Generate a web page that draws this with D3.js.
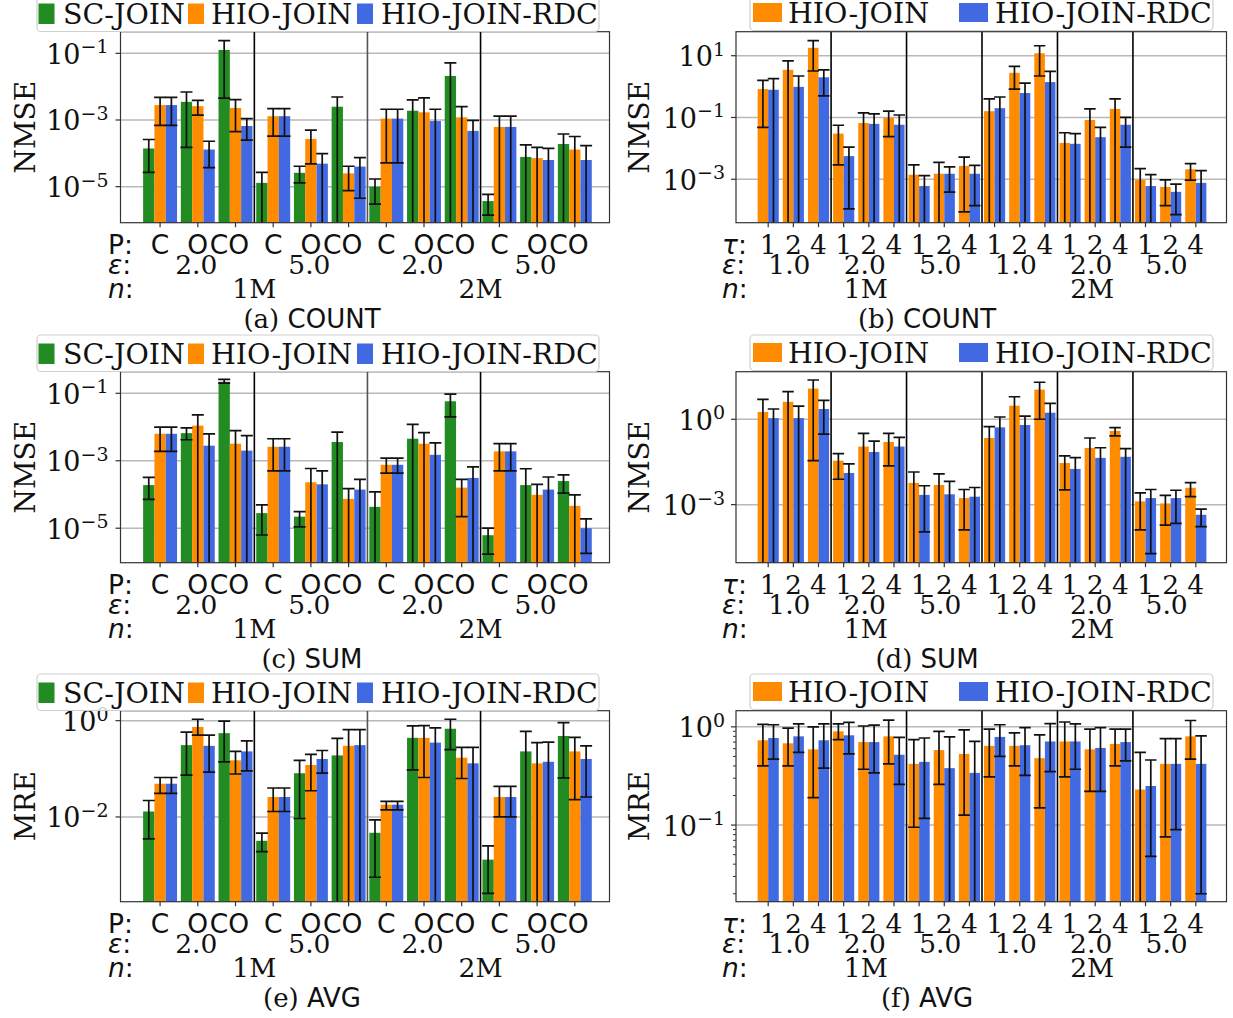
<!DOCTYPE html>
<html><head><meta charset="utf-8">
<script src="https://cdnjs.cloudflare.com/ajax/libs/d3/7.8.5/d3.min.js"></script>
<style>body{margin:0;background:#fff}</style>
</head><body><svg id="c" width="1233" height="1018"></svg>
<script>
// ---------------- DATA ----------------
// each entry: [value, lowerErrorBound, upperErrorBound]; lower bound 0 = error bar reaches below the axis
const seriesLeft = ["SC-JOIN", "HIO-JOIN", "HIO-JOIN-RDC"];
const seriesRight = ["HIO-JOIN", "HIO-JOIN-RDC"];
const pLabels = ["C","O","CO","C","O","CO","C","O","CO","C","O","CO"];
const epsLeft = ["2.0","5.0","2.0","5.0"];
const tauLabels = ["1","2","4","1","2","4","1","2","4","1","2","4","1","2","4","1","2","4"];
const epsRight = ["1.0","2.0","5.0","1.0","2.0","5.0"];
const nLabels = ["1M","2M"];

const countP_SC = [[1.4e-4,2.7e-5,2.6e-4],[3.5e-3,1.5e-4,6.9e-3],[0.126,4.5e-3,0.24],[1.3e-5,0,2.7e-5],[2.6e-5,1.3e-5,4.1e-5],[2.5e-3,0,4.9e-3],[1.0e-5,3.0e-6,1.7e-5],[1.9e-3,0,4.0e-3],[2.1e-2,0,5.2e-2],[3.7e-6,1.4e-6,5.9e-6],[7.8e-5,0,1.8e-4],[1.9e-4,0,3.8e-4]];
const countP_HIO = [[2.8e-3,6.9e-4,4.8e-3],[2.6e-3,1.4e-3,3.9e-3],[2.3e-3,4.5e-4,4.1e-3],[1.3e-3,3.3e-4,2.2e-3],[2.7e-4,4.8e-5,5.0e-4],[2.5e-5,7.6e-6,4.1e-5],[1.1e-3,5.2e-5,2.1e-3],[1.7e-3,0,4.6e-3],[1.2e-3,0,2.5e-3],[6.2e-4,0,1.3e-3],[7.2e-5,0,1.5e-4],[1.3e-4,0,3.2e-4]];
const countP_RDC = [[2.8e-3,6.9e-4,4.8e-3],[1.3e-4,3.7e-5,2.3e-4],[6.6e-4,2.5e-4,1.1e-3],[1.3e-3,3.3e-4,2.2e-3],[4.9e-5,0,9.8e-5],[4.0e-5,4.5e-6,7.4e-5],[1.1e-3,5.2e-5,2.1e-3],[9.3e-4,0,2.1e-3],[4.7e-4,0,9.8e-4],[6.2e-4,0,1.3e-3],[6.3e-5,0,1.4e-4],[6.3e-5,0,1.7e-4]];

const countT_HIO = [[0.83,0.048,1.6],[3.5,0,6.8],[18,3.2,31],[0.030,2.9e-3,0.056],[0.066,0,0.14],[0.098,0.024,0.16],[1.4e-3,0,2.9e-3],[1.5e-3,0,3.5e-3],[2.7e-3,8.7e-5,5.2e-3],[0.16,0,0.40],[2.8,0.83,4.5],[12,2.2,21],[0.015,0,0.032],[0.083,0,0.19],[0.19,0,0.40],[9.5e-4,0,2.2e-3],[5.6e-4,1.4e-4,9.5e-4],[2.1e-3,9.3e-4,3.2e-3]];
const countT_RDC = [[0.79,0,1.8],[0.98,0,2.2],[2.0,0.50,3.5],[5.6e-3,1.1e-4,0.011],[0.062,0,0.13],[0.058,0,0.12],[6.0e-4,0,1.3e-3],[1.5e-3,3.8e-4,2.5e-3],[1.5e-3,1.4e-4,2.8e-3],[0.20,0,0.46],[0.62,0,1.3],[1.4,0,3.1],[0.014,0,0.030],[0.023,0,0.048],[0.058,0.011,0.10],[6.0e-4,0,1.4e-3],[3.9e-4,7.1e-5,6.9e-4],[7.6e-4,0,1.9e-3]];

const sumP_SC = [[1.9e-4,7.2e-5,3.2e-4],[6.6e-3,4.2e-3,9.5e-3],[0.22,0.20,0.26],[2.8e-5,6.3e-6,4.9e-5],[2.2e-5,1.1e-5,3.1e-5],[3.6e-3,0,7.1e-3],[4.3e-5,0,1.2e-4],[4.5e-3,0,0.012],[0.058,0.020,0.095],[6.2e-6,1.7e-6,1.0e-5],[1.9e-4,0,5.8e-4],[2.5e-4,1.1e-4,3.8e-4]];
const sumP_HIO = [[6.3e-3,1.9e-3,0.010],[0.011,0,0.023],[3.2e-3,0,7.8e-3],[2.6e-3,5.0e-4,4.5e-3],[2.3e-4,0,5.9e-4],[7.4e-5,0,1.5e-4],[7.6e-4,4.3e-4,1.2e-3],[3.2e-3,0,6.8e-3],[1.6e-4,2.2e-5,2.8e-4],[1.9e-3,5.0e-4,3.2e-3],[9.8e-5,0,2.0e-4],[4.6e-5,0,9.8e-5]];
const sumP_RDC = [[6.3e-3,1.9e-3,0.010],[2.8e-3,0,6.3e-3],[2.0e-3,0,5.6e-3],[2.6e-3,5.0e-4,4.5e-3],[2.0e-4,0,5.0e-4],[1.4e-4,0,2.8e-4],[7.6e-4,4.3e-4,1.2e-3],[1.5e-3,0,3.4e-3],[3.1e-4,0,6.6e-4],[1.9e-3,5.0e-4,3.2e-3],[1.4e-4,0,3.3e-4],[1.0e-5,1.8e-6,1.9e-5]];

const sumT_HIO = [[1.8,0,5.0],[4.1,0,9.3],[12,0.035,24],[0.035,7.8e-3,0.062],[0.11,0,0.32],[0.16,0.023,0.32],[5.8e-3,0,0.014],[4.9e-3,0,0.012],[1.7e-3,1.3e-4,3.4e-3],[0.22,0,0.55],[3.0,0,6.2],[11,1.0,20],[0.029,3.3e-3,0.052],[0.098,0,0.22],[0.39,0.26,0.51],[1.3e-3,1.3e-4,2.6e-3],[1.1e-3,1.9e-4,2.1e-3],[3.9e-3,1.9e-3,5.9e-3]];
const sumT_RDC = [[1.1,0,2.3],[1.1,0,2.9],[2.3,0.30,4.6],[0.013,0,0.027],[0.071,0,0.17],[0.11,0,0.23],[2.2e-3,1.1e-4,4.6e-3],[2.3e-3,0,6.6e-3],[1.9e-3,0,4.0e-3],[0.52,0,1.2],[0.63,0,1.3],[1.7,0,3.6],[0.018,0,0.045],[0.044,0,0.10],[0.048,0,0.093],[1.7e-3,1.9e-5,3.4e-3],[1.7e-3,2.2e-4,3.2e-3],[4.4e-4,1.7e-4,6.9e-4]];

const avgP_SC = [[0.013,3.5e-3,0.022],[0.31,0.074,0.58],[0.55,0.14,0.98],[3.2e-3,1.9e-3,4.6e-3],[0.081,9.3e-3,0.15],[0.19,0,0.43],[4.7e-3,5.6e-4,8.7e-3],[0.44,0.095,0.78],[0.68,0.25,1.07],[1.3e-3,2.6e-4,2.5e-3],[0.23,0,0.60],[0.48,0.065,0.91]];
const avgP_HIO = [[0.049,0.031,0.066],[0.74,0.50,1.07],[0.15,0.078,0.23],[0.026,0.013,0.040],[0.12,0.035,0.20],[0.30,0,0.65],[0.018,0.014,0.021],[0.44,0.066,0.79],[0.17,0.063,0.28],[0.026,0.010,0.043],[0.13,0,0.35],[0.23,0.023,0.45]];
const avgP_RDC = [[0.049,0.031,0.066],[0.30,0.085,0.50],[0.23,0.091,0.38],[0.026,0.013,0.040],[0.16,0.081,0.24],[0.31,0,0.65],[0.018,0.014,0.021],[0.35,0,0.71],[0.13,0,0.28],[0.026,0.010,0.043],[0.14,0,0.36],[0.16,0.026,0.30]];

const avgT_HIO = [[0.73,0.40,1.06],[0.68,0.40,0.97],[0.59,0.19,1.0],[0.90,0.74,1.07],[0.70,0.37,1.02],[0.80,0.42,1.17],[0.42,0.095,0.74],[0.58,0.26,0.90],[0.53,0.126,0.93],[0.64,0.31,0.95],[0.64,0.40,0.87],[0.48,0.15,0.83],[0.71,0.31,1.12],[0.59,0.22,0.95],[0.67,0.40,0.95],[0.23,0,0.55],[0.42,0.076,0.76],[0.80,0.47,1.16]];
const avgT_RDC = [[0.77,0.47,1.05],[0.80,0.55,1.07],[0.73,0.38,1.07],[0.82,0.53,1.11],[0.70,0.34,1.04],[0.52,0.26,0.78],[0.44,0.117,0.77],[0.38,0,0.79],[0.34,0,0.71],[0.79,0.50,1.05],[0.65,0.32,0.98],[0.71,0.35,1.08],[0.71,0.37,1.07],[0.61,0.22,0.98],[0.70,0.45,0.95],[0.25,0.048,0.46],[0.42,0.090,0.76],[0.42,0.020,0.81]];

// y-axis ranges and labelled ticks per panel
const yDomA = [8.3e-7, 0.445], yTicksA = [1e-1, 1e-3, 1e-5];
const yDomB = [3.9e-5, 60],    yTicksB = [1e1, 1e-1, 1e-3];
const yDomC = [9.5e-7, 0.437], yTicksC = [1e-1, 1e-3, 1e-5];
const yDomD = [9.1e-6, 47],    yTicksD = [1e0, 1e-3];
const yDomE = [1.74e-4, 1.61], yTicksE = [1e0, 1e-2];
const yDomF = [0.0166, 1.46],  yTicksF = [1e0, 1e-1];

// ---------------- STYLE / LAYOUT ----------------
const SERIF = "'DejaVu Serif', serif", SANS = "'DejaVu Sans', sans-serif";
const COLORS = {"SC-JOIN":"#228B22","HIO-JOIN":"#FF8C00","HIO-JOIN-RDC":"#4169E1"};
const ROWS = [0, 340, 679];
const LEFT = {x0:120.5, x1:609.5, dom:[-1.05,11.92], bw:0.3, offs:[-0.3,0,0.3], seps:[2.5,5.5,8.5],
  tickEnd:108.5, ylabX:35, rowX:108, capX:312, cap:12,
  legend:{x:37, w:562, patchX:[38.5,188,357], patchW:16, patchY:3.5, patchH:20.5, textX:[63,211,381], base:24, bottom:31.5}};
const RIGHT = {x0:736, x1:1226.5, dom:[-1.28,18.22], bw:0.42, offs:[-0.21,0.21], seps:[2.5,5.5,8.5,11.5,14.5],
  tickEnd:725, ylabX:649, rowX:722, capX:927, cap:11.5,
  legend:{x:750, w:463, patchX:[753,959], patchW:29, patchY:3, patchH:19, textX:[788,995], base:22.5, bottom:30.5}};

const panels = [
  {L:LEFT, row:0, id:"a", ylab:"NMSE", dom:yDomA, ticks:yTicksA, names:seriesLeft, data:[countP_SC,countP_HIO,countP_RDC], cap:["(a) ","COUNT"]},
  {L:RIGHT,row:0, id:"b", ylab:"NMSE", dom:yDomB, ticks:yTicksB, names:seriesRight, data:[countT_HIO,countT_RDC], cap:["(b) ","COUNT"]},
  {L:LEFT, row:1, id:"c", ylab:"NMSE", dom:yDomC, ticks:yTicksC, names:seriesLeft, data:[sumP_SC,sumP_HIO,sumP_RDC], cap:["(c) ","SUM"]},
  {L:RIGHT,row:1, id:"d", ylab:"NMSE", dom:yDomD, ticks:yTicksD, names:seriesRight, data:[sumT_HIO,sumT_RDC], cap:["(d) ","SUM"]},
  {L:LEFT, row:2, id:"e", ylab:"MRE",  dom:yDomE, ticks:yTicksE, names:seriesLeft, data:[avgP_SC,avgP_HIO,avgP_RDC], cap:["(e) ","AVG"]},
  {L:RIGHT,row:2, id:"f", ylab:"MRE",  dom:yDomF, ticks:yTicksF, names:seriesRight, data:[avgT_HIO,avgT_RDC], cap:["(f) ","AVG"], minor:true}
];

const svg = d3.select("#c");
svg.append("rect").attr("width",1233).attr("height",1018).attr("fill","#fff");
const defs = svg.append("defs");

function drawPanel(p){
  const L = p.L, off = ROWS[p.row];
  const top = 31.7 + off, bot = 222.7 + off;
  const x = d3.scaleLinear().domain(L.dom).range([L.x0, L.x1]);
  const y = d3.scaleLog().domain(p.dom).range([bot, top]);
  const yy = v => v > 0 ? y(v) : bot + 30;
  const bwPx = x(L.bw) - x(0);
  const g = svg.append("g");

  defs.append("clipPath").attr("id","clip"+p.id).append("rect")
    .attr("x",L.x0).attr("y",top).attr("width",L.x1-L.x0).attr("height",bot-top);

  // grid
  g.selectAll(null).data(p.ticks).join("line")
    .attr("x1",L.x0).attr("x2",L.x1).attr("y1",d=>y(d)).attr("y2",d=>y(d))
    .attr("stroke","#b8b8b8").attr("stroke-width",1.5);

  const plot = g.append("g").attr("clip-path","url(#clip"+p.id+")");
  const n = p.data[0].length;
  // bars
  p.data.forEach((s,si)=>{
    plot.selectAll(null).data(s).join("rect")
      .attr("x",(d,i)=>x(i+L.offs[si]) - bwPx/2)
      .attr("width",bwPx)
      .attr("y",d=>y(d[0]))
      .attr("height",d=>bot + 2 - y(d[0]))
      .attr("fill",COLORS[p.names[si]]);
  });
  // error bars
  p.data.forEach((s,si)=>{
    const eg = plot.append("g").attr("stroke","#111").attr("stroke-width",1.7);
    eg.selectAll(null).data(s).join("line")
      .attr("x1",(d,i)=>x(i+L.offs[si])).attr("x2",(d,i)=>x(i+L.offs[si]))
      .attr("y1",d=>yy(d[1])).attr("y2",d=>yy(d[2]));
    eg.selectAll(null).data(s).join("line")
      .attr("x1",(d,i)=>x(i+L.offs[si])-L.cap/2).attr("x2",(d,i)=>x(i+L.offs[si])+L.cap/2)
      .attr("y1",d=>yy(d[2])).attr("y2",d=>yy(d[2]));
    eg.selectAll(null).data(s).join("line")
      .attr("display",d=>d[1]>0?null:"none")
      .attr("x1",(d,i)=>x(i+L.offs[si])-L.cap/2).attr("x2",(d,i)=>x(i+L.offs[si])+L.cap/2)
      .attr("y1",d=>yy(d[1])).attr("y2",d=>yy(d[1]));
  });
  // separators
  g.selectAll(null).data(L.seps).join("line")
    .attr("x1",d=>x(d)).attr("x2",d=>x(d)).attr("y1",top).attr("y2",bot)
    .attr("stroke",(d)=> (L===LEFT && d===5.5) ? "#555" : "#000").attr("stroke-width",1.6);
  // frame
  g.append("rect").attr("x",L.x0).attr("y",top).attr("width",L.x1-L.x0).attr("height",bot-top)
    .attr("fill","none").attr("stroke","#333").attr("stroke-width",1.2);
  // x ticks
  g.selectAll(null).data(d3.range(n)).join("line")
    .attr("x1",d=>x(d)).attr("x2",d=>x(d)).attr("y1",bot).attr("y2",bot+4.5)
    .attr("stroke","#333").attr("stroke-width",1.2);
  // y ticks
  g.selectAll(null).data(p.ticks).join("line")
    .attr("x1",L.x0-5).attr("x2",L.x0).attr("y1",d=>y(d)).attr("y2",d=>y(d))
    .attr("stroke","#333").attr("stroke-width",1.2);
  if(p.minor){
    const minors = [];
    d3.range(Math.floor(Math.log10(p.dom[0])), Math.ceil(Math.log10(p.dom[1]))).forEach(e=>{
      for(let k=2;k<10;k++){ const v=k*Math.pow(10,e); if(v>p.dom[0]&&v<p.dom[1]) minors.push(v); }
    });
    g.selectAll(null).data(minors).join("line")
      .attr("x1",L.x0-3).attr("x2",L.x0).attr("y1",d=>y(d)).attr("y2",d=>y(d))
      .attr("stroke","#333").attr("stroke-width",1);
  }
  // y tick labels
  p.ticks.forEach(t=>{
    const e = Math.round(Math.log10(t));
    const tx = g.append("text").attr("x",L.tickEnd).attr("y",y(t)+10.5)
      .attr("text-anchor","end").attr("font-family",SERIF).attr("font-size",27).attr("fill","#111");
    tx.append("tspan").text("10");
    tx.append("tspan").attr("dy",-10.5).attr("font-size",19).text((e<0?"\u2212":"")+Math.abs(e));
  });
  // y label
  g.append("text").attr("transform",`translate(${L.ylabX},${(top+bot)/2}) rotate(-90)`)
    .attr("text-anchor","middle").attr("font-family",SERIF).attr("font-size",28).attr("fill","#111").text(p.ylab);

  // x category rows
  const r1 = 253.5+off, r2 = 273.5+off, r3 = 297.5+off;
  const lab = (txt, xx, yb, fam, anchor) => g.append("text").attr("x",xx).attr("y",yb)
      .attr("text-anchor",anchor||"middle").attr("font-family",fam).attr("font-size",26.5).attr("fill","#111").text(txt);
  const rowTitle = (sym, italic, yb) => {
    const t = g.append("text").attr("x",L.rowX).attr("y",yb).attr("font-family",SANS).attr("font-size",26.5).attr("fill","#111");
    t.append("tspan").attr("font-style",italic?"italic":"normal").text(sym);
    t.append("tspan").text(":");
  };
  if(L===LEFT){
    rowTitle("P", false, r1); rowTitle("\u03b5", true, r2); rowTitle("n", true, r3);
    pLabels.forEach((t,i)=>lab(t, x(i) - (t.length>1 ? 6 : 0), r1, SANS));
    epsLeft.forEach((t,k)=>lab(t, x(1+3*k) - 1.5, r2, SERIF));
    nLabels.forEach((t,k)=>lab(t, x(2.5+6*k), r3, SERIF));
  } else {
    rowTitle("\u03c4", true, r1); rowTitle("\u03b5", true, r2); rowTitle("n", true, r3);
    tauLabels.forEach((t,i)=>lab(t, x(i), r1, SERIF));
    epsRight.forEach((t,k)=>lab(t, x(1+3*k) - 4, r2, SERIF));
    nLabels.forEach((t,k)=>lab(t, x(4+9*k) - 3, r3, SERIF));
  }
  // caption
  const c = g.append("text").attr("x",L.capX).attr("y",328+off).attr("text-anchor","middle").attr("fill","#111").attr("font-size",26);
  c.append("tspan").attr("font-family",SERIF).text(p.cap[0]);
  c.append("tspan").attr("font-family",SANS).text(p.cap[1]);

  // legend
  const lg = L.legend;
  const leg = svg.append("g");
  leg.append("rect").attr("x",lg.x).attr("y",off-5).attr("width",lg.w).attr("height",lg.bottom+5)
    .attr("rx",4).attr("fill","#fff").attr("fill-opacity",0.8).attr("stroke","#cfcfcf").attr("stroke-width",1.2);
  p.names.forEach((nm,i)=>{
    leg.append("rect").attr("x",lg.patchX[i]).attr("y",off+lg.patchY).attr("width",lg.patchW).attr("height",lg.patchH).attr("fill",COLORS[nm]);
    leg.append("text").attr("x",lg.textX[i]).attr("y",off+lg.base).attr("font-family",SERIF).attr("font-size",28.5).attr("fill","#111").text(nm);
  });
}
panels.forEach(drawPanel);
</script></body></html>
